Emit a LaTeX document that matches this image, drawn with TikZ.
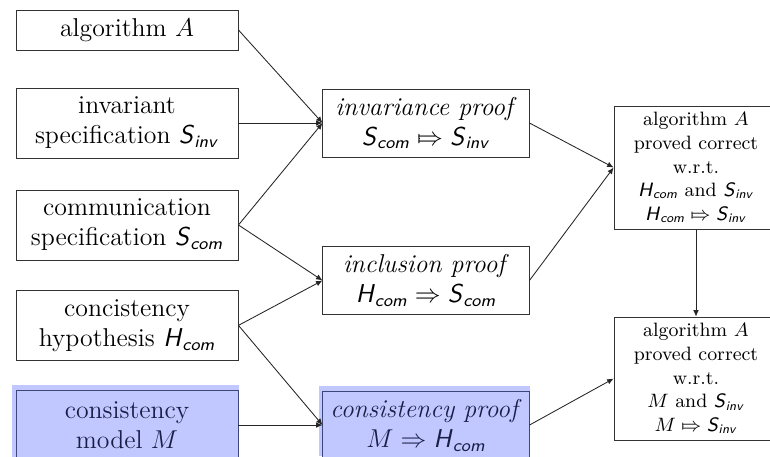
\documentclass[tikz,border=0pt]{standalone}
\usepackage{amsmath}
\usepackage{tikz}
\usetikzlibrary{arrows.meta,shadows}

\definecolor{modelfill}{RGB}{192,200,255}
\definecolor{modelline}{RGB}{60,70,120}
\definecolor{modeltext}{RGB}{25,30,70}

\newcommand{\sfv}[1]{\textsf{\textit{#1}}}
\newcommand{\Sinv}{\sfv{S}_{\sfv{inv}}}
\newcommand{\Scom}{\sfv{S}_{\sfv{com}}}
\newcommand{\Hcom}{\sfv{H}_{\sfv{com}}}
\newcommand{\barimp}{\mathrel{\mapstochar\Rightarrow}}

\begin{document}
\begin{tikzpicture}[
    box/.style={rectangle, draw=black!80, align=center, inner sep=2pt},
    src box/.style={box, font=\large, minimum width=3.63cm, minimum height=1.145cm},
    proof box/.style={box, font=\large, minimum width=3.37cm, minimum height=1.11cm},
    result box/.style={box, font=\small, minimum width=2.68cm, minimum height=2.01cm},
    model box/.style={fill=modelfill, draw=modelline, text=modeltext,
        general shadow={fill=modelfill, shadow scale=1.02, shadow xshift=-0.7pt, shadow yshift=1.8pt}},
    link/.style={-{Latex[length=3pt, width=2.6pt]}, black!85}
]

\useasboundingbox (0,0) rectangle (12.59,-7.456);

% Inputs
\node[src box, minimum height=0.654cm] (SrcAlg) at (2.077,-0.49) {algorithm $A$};
\node[src box] (SrcInv) at (2.077,-2.011) {invariant\\ specification $\Sinv$};
\node[src box] (SrcCom) at (2.077,-3.679) {communication\\ specification $\Scom$};
\node[src box] (SrcHyp) at (2.077,-5.32) {concistency\\ hypothesis $\Hcom$};
\node[src box, model box] (SrcModel) at (2.077,-6.95) {consistency\\ model $M$};

% Proofs
\node[proof box] (PrfInv) at (6.965,-2.011) {\textit{invariance proof}\\ $\Scom \barimp \Sinv$};
\node[proof box] (PrfIncl) at (6.965,-4.586) {\textit{inclusion proof}\\ $\Hcom \Rightarrow \Scom$};
\node[proof box, model box] (PrfCons) at (6.965,-6.95) {\textit{consistency proof}\\ $M \Rightarrow \Hcom$};

% Results
\node[result box] (ResHyp) at (11.38,-2.739)
    {algorithm $A$\\ proved correct\\ w.r.t.\\ $\Hcom$ and $\Sinv$\\ $\Hcom \barimp \Sinv$};
\node[result box] (ResModel) at (11.38,-6.19)
    {algorithm $A$\\ proved correct\\ w.r.t.\\ $M$ and $\Sinv$\\ $M \barimp \Sinv$};

% Inputs to proofs
\draw[link] (SrcAlg.east) -- (PrfInv.west);
\draw[link] (SrcInv.east) -- (PrfInv.west);
\draw[link] (SrcCom.east) -- (PrfInv.west);
\draw[link] (SrcCom.east) -- (PrfIncl.west);
\draw[link] (SrcHyp.east) -- (PrfIncl.west);
\draw[link] (SrcHyp.east) -- (PrfCons.west);
\draw[link] (SrcModel.east) -- (PrfCons.west);

% Proofs to results
\draw[link] (PrfInv.east) -- (ResHyp.west);
\draw[link] (PrfIncl.east) -- (ResHyp.west);
\draw[link] (PrfCons.east) -- (ResModel.west);
\draw[link] (ResHyp.south) -- (ResModel.north);

\end{tikzpicture}
\end{document}
